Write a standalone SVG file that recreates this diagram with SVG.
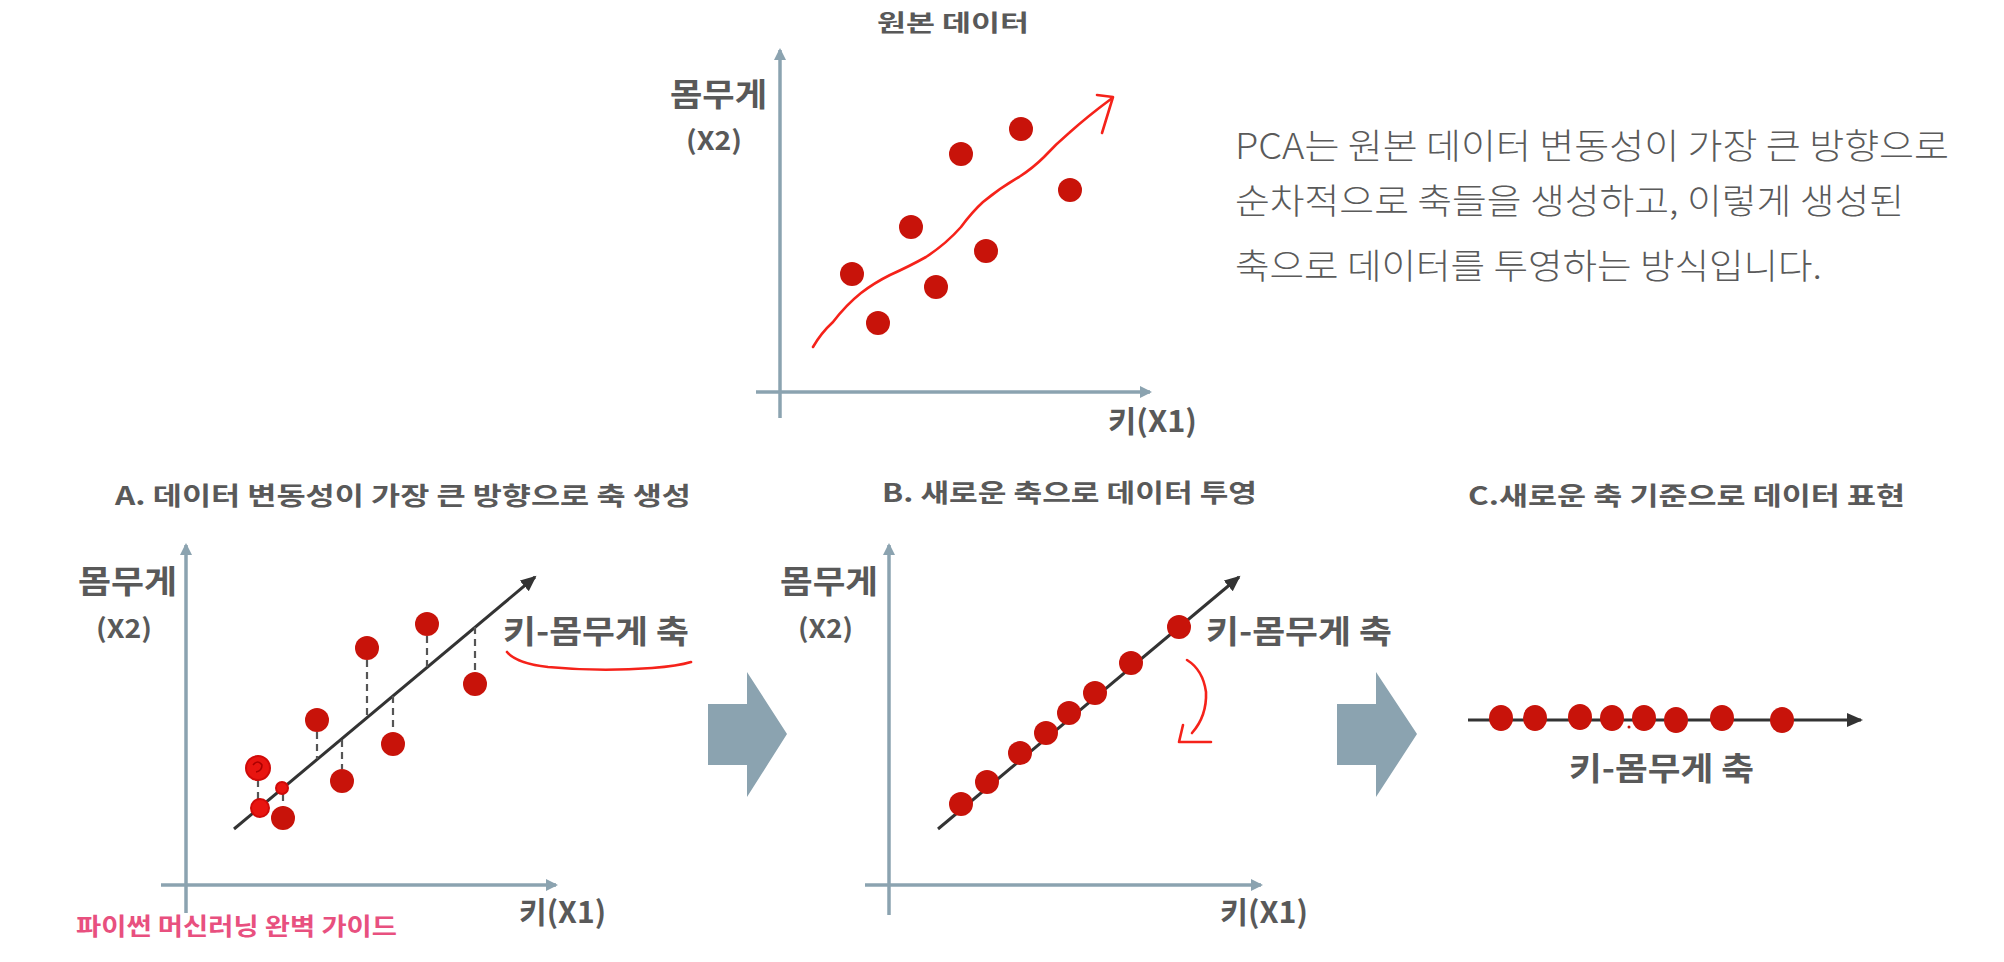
<svg xmlns="http://www.w3.org/2000/svg" width="2004" height="962" viewBox="0 0 2004 962">
<style>
text{font-family:"Noto Sans CJK KR","Noto Sans",sans-serif;fill:#595959}
.b{font-weight:700}
.body{font-size:35px;font-weight:300;fill:#5a5a5a}
.title{font-size:25px;font-weight:700}
.lab{font-size:32px;font-weight:700}
.x2{font-size:26px;font-weight:700}
.x1{font-size:30px;font-weight:700}
.wm{font-size:24px;font-weight:700;fill:#e8507f}
.axis{stroke:#8ba3b0;stroke-width:3.5;fill:none}
.pc{stroke:#333;stroke-width:3;fill:none}
.dash{stroke:#555;stroke-width:2.2;stroke-dasharray:7 5;fill:none}
.dot{fill:#c8130a}
.hd{fill:#e81510;stroke:#d00a08;stroke-width:2}
.red{stroke:#f5221a;stroke-width:2.6;fill:none;stroke-linecap:round;stroke-linejoin:round}
.big{fill:#8ba3b0}
</style>
<defs>
<marker id="ax" markerWidth="14" markerHeight="14" refX="10" refY="6" orient="auto" markerUnits="userSpaceOnUse"><path d="M0,0 L12,6 L0,12 Z" fill="#8ba3b0"/></marker>
<marker id="bk" markerWidth="18" markerHeight="16" refX="14" refY="7" orient="auto" markerUnits="userSpaceOnUse"><path d="M0,0 L16,7 L0,14 Z" fill="#333"/></marker>
</defs>
<rect width="2004" height="962" fill="#fff"/>

<g id="top-chart">
<text class="b" x="953" y="31" font-size="23" text-anchor="middle" textLength="152" lengthAdjust="spacingAndGlyphs">원본 데이터</text>
<line class="axis" x1="780" y1="418" x2="780" y2="50" marker-end="url(#ax)"/>
<line class="axis" x1="756" y1="392" x2="1150" y2="392" marker-end="url(#ax)"/>
<text class="lab" x="670" y="106" font-size="33" textLength="97" lengthAdjust="spacingAndGlyphs">몸무게</text>
<text class="x2" x="686" y="150" textLength="56" lengthAdjust="spacingAndGlyphs">(X2)</text>
<text class="x1" x="1108" y="432" textLength="89" lengthAdjust="spacingAndGlyphs">키(X1)</text>
<path class="red" d="M813,347 Q821,333 833,322 Q846,305 861,293 Q874,283 890,275 Q910,266 926,257 Q946,244 961,227 Q972,212 983,202 Q1000,188 1019,177 Q1033,168 1044,157 Q1056,144 1069,133 Q1088,116 1111,99"/>
<path class="red" d="M1097,95 L1113,97 L1102,133"/>
<circle class="dot" cx="852" cy="274" r="12"/>
<circle class="dot" cx="878" cy="323" r="12"/>
<circle class="dot" cx="911" cy="227" r="12"/>
<circle class="dot" cx="936" cy="287" r="12"/>
<circle class="dot" cx="961" cy="154" r="12"/>
<circle class="dot" cx="986" cy="251" r="12"/>
<circle class="dot" cx="1021" cy="129" r="12"/>
<circle class="dot" cx="1070" cy="190" r="12"/>
</g>

<g id="description">
<text class="body" x="1235" y="159" textLength="714" lengthAdjust="spacingAndGlyphs">PCA는 원본 데이터 변동성이 가장 큰 방향으로</text>
<text class="body" x="1235" y="214" textLength="669" lengthAdjust="spacingAndGlyphs">순차적으로 축들을 생성하고, 이렇게 생성된</text>
<text class="body" x="1235" y="279" textLength="587" lengthAdjust="spacingAndGlyphs">축으로 데이터를 투영하는 방식입니다.</text>
</g>

<g id="panel-a">
<text class="title" x="115" y="505" textLength="576" lengthAdjust="spacingAndGlyphs">A. 데이터 변동성이 가장 큰 방향으로 축 생성</text>
<line class="axis" x1="186" y1="913" x2="186" y2="545" marker-end="url(#ax)"/>
<line class="axis" x1="161" y1="885" x2="556" y2="885" marker-end="url(#ax)"/>
<text class="lab" x="78" y="593" textLength="99" lengthAdjust="spacingAndGlyphs">몸무게</text>
<text class="x2" x="96" y="638" textLength="56" lengthAdjust="spacingAndGlyphs">(X2)</text>
<text class="x1" x="519" y="923" textLength="87" lengthAdjust="spacingAndGlyphs">키(X1)</text>
<text class="lab" x="503" y="643" textLength="186" lengthAdjust="spacingAndGlyphs">키-몸무게 축</text>
<path class="red" d="M507,652 Q516,663 548,667 Q600,672 652,668 Q678,666 691,662"/>
<line class="pc" x1="234" y1="829" x2="535" y2="577" marker-end="url(#bk)"/>
<line class="dash" x1="258" y1="780" x2="258" y2="800"/>
<line class="dash" x1="283" y1="794" x2="283" y2="807"/>
<line class="dash" x1="317" y1="732" x2="317" y2="759"/>
<line class="dash" x1="342" y1="740" x2="342" y2="769"/>
<line class="dash" x1="367" y1="660" x2="367" y2="718"/>
<line class="dash" x1="393" y1="696" x2="393" y2="732"/>
<line class="dash" x1="427" y1="636" x2="427" y2="667"/>
<line class="dash" x1="475" y1="627" x2="475" y2="672"/>
<circle class="hd" cx="258" cy="768" r="12"/>
<path d="M253,765 Q258,759 262,765 Q262,771 256,772" stroke="#a00" stroke-width="1.5" fill="none"/>
<circle class="hd" cx="260" cy="808" r="9"/>
<circle class="hd" cx="282" cy="788" r="6"/>
<circle class="dot" cx="283" cy="818" r="12"/>
<circle class="dot" cx="317" cy="720" r="12"/>
<circle class="dot" cx="342" cy="781" r="12"/>
<circle class="dot" cx="367" cy="648" r="12"/>
<circle class="dot" cx="393" cy="744" r="12"/>
<circle class="dot" cx="427" cy="624" r="12"/>
<circle class="dot" cx="475" cy="684" r="12"/>
<text class="wm" x="76" y="935" textLength="321" lengthAdjust="spacingAndGlyphs">파이썬 머신러닝 완벽 가이드</text>
</g>

<g id="arrow-1">
<polygon class="big" points="708,704 747,704 747,672 787,734 747,797 747,765 708,765"/>
</g>

<g id="panel-b">
<text class="title" x="882" y="502" textLength="375" lengthAdjust="spacingAndGlyphs">B. 새로운 축으로 데이터 투영</text>
<line class="axis" x1="889" y1="915" x2="889" y2="545" marker-end="url(#ax)"/>
<line class="axis" x1="865" y1="885" x2="1261" y2="885" marker-end="url(#ax)"/>
<text class="lab" x="780" y="593" textLength="98" lengthAdjust="spacingAndGlyphs">몸무게</text>
<text class="x2" x="798" y="638" textLength="55" lengthAdjust="spacingAndGlyphs">(X2)</text>
<text class="x1" x="1220" y="923" textLength="88" lengthAdjust="spacingAndGlyphs">키(X1)</text>
<text class="lab" x="1206" y="643" textLength="186" lengthAdjust="spacingAndGlyphs">키-몸무게 축</text>
<line class="pc" x1="938" y1="829" x2="1239" y2="577" marker-end="url(#bk)"/>
<circle class="dot" cx="961" cy="804" r="12"/>
<circle class="dot" cx="987" cy="782" r="12"/>
<circle class="dot" cx="1020" cy="753" r="12"/>
<circle class="dot" cx="1046" cy="733" r="12"/>
<circle class="dot" cx="1069" cy="713" r="12"/>
<circle class="dot" cx="1095" cy="693" r="12"/>
<circle class="dot" cx="1131" cy="663" r="12"/>
<circle class="dot" cx="1179" cy="627" r="12"/>
<path class="red" d="M1187,660 Q1203,670 1206,692 Q1207,716 1192,733"/>
<path class="red" d="M1183,725 L1179,742 L1211,742"/>
</g>

<g id="arrow-2">
<polygon class="big" points="1337,704 1376,704 1376,672 1417,734 1376,797 1376,765 1337,765"/>
</g>

<g id="panel-c">
<text class="title" x="1468" y="505" textLength="437" lengthAdjust="spacingAndGlyphs">C.새로운 축 기준으로 데이터 표현</text>
<line class="pc" x1="1468" y1="720" x2="1861" y2="720" marker-end="url(#bk)"/>
<ellipse class="dot" cx="1501" cy="718" rx="12" ry="13"/>
<ellipse class="dot" cx="1535" cy="718" rx="12" ry="13"/>
<ellipse class="dot" cx="1580" cy="717" rx="12" ry="13"/>
<ellipse class="dot" cx="1612" cy="718" rx="12" ry="13"/>
<ellipse class="dot" cx="1644" cy="718" rx="12" ry="13"/>
<ellipse class="dot" cx="1676" cy="720" rx="12" ry="13"/>
<ellipse class="dot" cx="1722" cy="718" rx="12" ry="13"/>
<ellipse class="dot" cx="1782" cy="720" rx="12" ry="13"/>
<circle class="dot" cx="1629" cy="727" r="1.5"/>
<text class="lab" x="1569" y="780" textLength="185" lengthAdjust="spacingAndGlyphs">키-몸무게 축</text>
</g>
</svg>
